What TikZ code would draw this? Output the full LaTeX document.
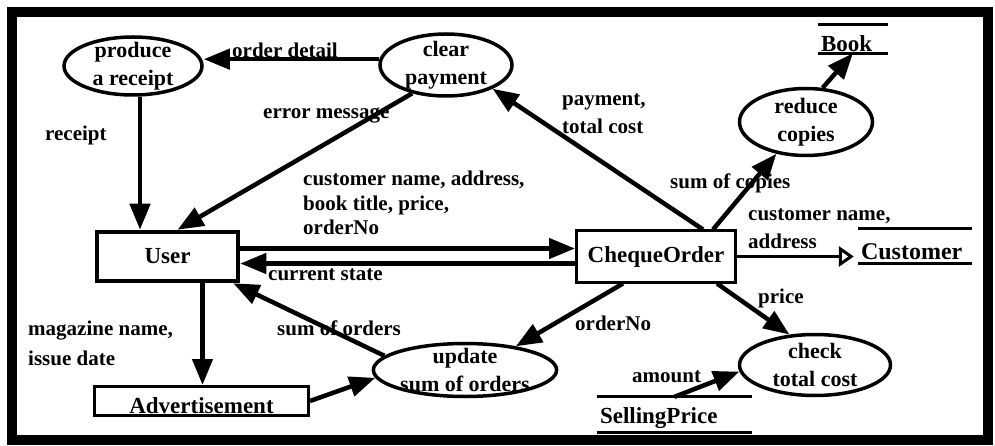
\documentclass[tikz,border=0pt]{standalone}
\usepackage{fontspec}
\setmainfont{Liberation Serif}
\usetikzlibrary{shapes.geometric,arrows.meta}

\begin{document}
\begin{tikzpicture}[
    x=1pt, y=-1pt,
    proc/.style={ellipse, draw, line width=3.5pt, inner xsep=0pt, inner ysep=-6pt, align=center, font=\bfseries\fontsize{22}{28}\selectfont},
    ent/.style={rectangle, draw, line width=3pt, inner sep=0pt, font=\bfseries\fontsize{23}{28}\selectfont},
    store/.style={inner ysep=0pt, inner xsep=3pt, align=left, font=\bfseries\fontsize{23}{28}\selectfont},
    lbl/.style={anchor=west, align=left, inner sep=0pt, font=\bfseries\fontsize{21}{26}\selectfont},
    flow/.style={-{Triangle[length=26pt,width=20pt]}, line width=4.5pt},
    bar/.style={line width=3pt}
]
\useasboundingbox (0,0) rectangle (995,446);

% Frame
\draw[line width=10pt] (12,12) rectangle (988,440);

% Processes
\node[proc, minimum width=138pt, minimum height=58pt] (produce) at (133,66) {produce\\a receipt};
\node[proc, minimum width=132pt, minimum height=62pt] (clear) at (446,65) {clear\\payment};
\node[proc, minimum width=133pt, minimum height=67pt] (reduce) at (806,122) {reduce\\copies};
\node[proc, minimum width=151pt, minimum height=61pt] (check) at (815,365) {check\\total cost};
\node[proc, minimum width=181pt, minimum height=53pt] (update) at (465,370) {update\\sum of orders};

% Entities
\node[ent, line width=4.5pt, minimum width=141pt, minimum height=49pt] (user) at (167.5,256.5) {User};
\node[ent, minimum width=159pt, minimum height=51pt] (cheque) at (656,256.5) {ChequeOrder};
\node[ent, minimum width=214pt, minimum height=29pt, text height=27pt, text depth=2pt] (advert) at (201.5,401) {Advertisement};

% Data stores
\node[store, text width=64pt, text height=26.5pt, text depth=1.5pt] (book) at (853,39) {Book};
\node[store, text width=108pt, text height=30pt, text depth=4pt, font=\bfseries\fontsize{24}{28}\selectfont] (customer) at (915,246) {Customer};
\node[store, text width=149pt, text height=26pt, text depth=9pt] (selling) at (674.5,414.5) {SellingPrice};
\foreach \s in {book,customer,selling} {
  \draw[bar] (\s.north west) -- (\s.north east);
  \draw[bar] (\s.south west) -- (\s.south east);
}

% Labels
\node[lbl] (lDetail) at (232,50) {order detail};
\node[lbl] (lReceipt) at (45,135) {receipt};
\node[lbl] (lError) at (263,115) {error message};
\node[lbl, font=\bfseries\fontsize{21}{24.5}\selectfont] (lCustInfo) at (303,203) {customer name, address,\\book title, price,\\orderNo};
\node[lbl] (lState) at (268,275) {current state};
\node[lbl, font=\bfseries\fontsize{21}{28}\selectfont] (lPayment) at (562,114) {payment,\\total cost};
\node[lbl] (lCopies) at (670,183) {sum of copies};
\node[lbl, font=\bfseries\fontsize{21}{28}\selectfont] (lCustName) at (748,229) {customer name,\\address};
\node[lbl] (lPrice) at (758,298) {price};
\node[lbl] (lAmount) at (632,377) {amount};
\node[lbl] (lOrderNo) at (575,323) {orderNo};
\node[lbl] (lSumOrders) at (277,328) {sum of orders};
\node[lbl, font=\bfseries\fontsize{21}{30}\selectfont] (lMagazine) at (28,343) {magazine name,\\issue date};

% Flows
\draw[flow] (clear.175) -- (clear.175 -| produce.east);
\coordinate (rc) at ([xshift=7pt]produce.south);
\draw[flow] (rc) -- (rc |- user.north);
\draw[flow] (clear.220) -- ([xshift=10pt]user.north);
\draw[flow] ([yshift=8pt]user.east) -- ([yshift=8pt]cheque.west);
\draw[flow] ([yshift=-7pt]cheque.west) -- ([yshift=-7pt]user.east);
\draw[flow] ([xshift=47pt]cheque.north) -- (clear.-27);
\draw[flow] ([xshift=57pt]cheque.north) -- (reduce.227);
\draw[flow] (reduce.64) -- (book.south);
\draw[flow, line width=3pt, -{Triangle[open,length=15pt,width=20pt]}] (cheque.east) -- ([xshift=-4pt]cheque.east -| customer.west);
\draw[flow] ([xshift=61pt]cheque.south) -- (check.130);
\draw[flow] (selling.north) -- (check.185);
\draw[flow] ([xshift=-33pt]cheque.south) -- (update.25);
\draw[flow] (update.170) -- ([xshift=-7pt]user.south east);
\coordinate (ua) at ([xshift=35pt]user.south);
\draw[flow] (ua) -- (ua |- advert.north);
\draw[flow] (advert.east) -- (update.185);

\end{tikzpicture}
\end{document}
